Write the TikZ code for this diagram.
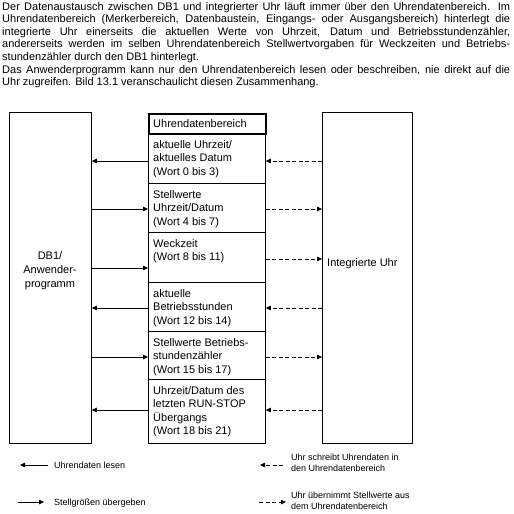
\documentclass[tikz,border=0pt]{standalone}
\usepackage{fontspec}
\setmainfont{Liberation Sans}
\usetikzlibrary{arrows.meta,calc}
\setlength\parindent{0pt}
\begin{document}
\begin{tikzpicture}[x=1pt,y=-1pt,
  box/.style={draw,line width=0.8pt,inner sep=0pt,anchor=north west},
  arr/.style={line width=0.8pt,-{Triangle[length=5pt,width=4.5pt]}},
  darr/.style={arr,dash pattern=on 4pt off 2.5pt},
  rowtxt/.style={anchor=north west,inner sep=0pt,align=left,font=\fontsize{11}{13.6}\selectfont},
  lgd/.style={anchor=west,inner sep=0pt,align=left,font=\fontsize{9}{11.5}\selectfont}]
\useasboundingbox (0,0) rectangle (514,514);
\fill[white] (0,0) rectangle (514,514);

% paragraph
\node[anchor=north west,inner sep=0pt,align=left,font=\fontsize{11}{12.6}\selectfont] (para) at (2,2) {%
\makebox[508pt][s]{Der Datenaustausch zwischen DB1 und integrierter Uhr läuft immer über den Uhrendatenbereich. Im}\\
\makebox[508pt][s]{Uhrendatenbereich (Merkerbereich, Datenbaustein, Eingangs- oder Ausgangsbereich) hinterlegt die}\\
\makebox[508pt][s]{integrierte Uhr einerseits die aktuellen Werte von Uhrzeit, Datum und Betriebsstundenzähler,}\\
\makebox[508pt][s]{andererseits werden im selben Uhrendatenbereich Stellwertvorgaben für Weckzeiten und Betriebs-}\\
stundenzähler durch den DB1 hinterlegt.\\
\makebox[508pt][s]{Das Anwenderprogramm kann nur den Uhrendatenbereich lesen oder beschreiben, nie direkt auf die}\\
Uhr zugreifen. Bild 13.1 veranschaulicht diesen Zusammenhang.};

% boxes
\node[box,minimum width=82pt,minimum height=331pt] (L) at (9,112) {};
\node[box,minimum width=90pt,minimum height=331pt] (R) at (322,112) {};
\node[box,line width=1.6pt,minimum width=117pt,minimum height=20pt] (T) at (148,113) {};
\node[box,minimum width=117pt,minimum height=50pt] (r1) at (148,133) {};
\node[box,minimum width=117pt,minimum height=49pt] (r2) at (148,183) {};
\node[box,minimum width=117pt,minimum height=50pt] (r3) at (148,232) {};
\node[box,minimum width=117pt,minimum height=49pt] (r4) at (148,282) {};
\node[box,minimum width=117pt,minimum height=48pt] (r5) at (148,331) {};
\node[box,minimum width=117pt,minimum height=64pt] (r6) at (148,379) {};

% texts
\node[rowtxt] (tT) at (153,119) {Uhrendatenbereich};
\node[rowtxt] (t1) at (153,140) {aktuelle Uhrzeit/\\aktuelles Datum\\(Wort 0 bis 3)};
\node[rowtxt] (t2) at (153,190) {Stellwerte\\Uhrzeit/Datum\\(Wort 4 bis 7)};
\node[rowtxt] (t3) at (153,239) {Weckzeit\\(Wort 8 bis 11)};
\node[rowtxt] (t4) at (153,289) {aktuelle\\Betriebsstunden\\(Wort 12 bis 14)};
\node[rowtxt] (t5) at (153,338) {Stellwerte Betriebs-\\stundenzähler\\(Wort 15 bis 17)};
\node[rowtxt] (t6) at (153,386) {Uhrzeit/Datum des\\letzten RUN-STOP\\Übergangs\\(Wort 18 bis 21)};
\node[inner sep=0pt,align=center,font=\fontsize{11}{14}\selectfont] (tL) at (50,271) {DB1/\\Anwender-\\programm};
\node[anchor=west,inner sep=0pt,font=\fontsize{11}{13.5}\selectfont] (tR) at (327,264) {Integrierte Uhr};

% connectors
\draw[arr] (r1.west |- 0,161) -- (L.east |- 0,161);
\draw[darr] (R.west |- 0,161) -- (r1.east |- 0,161);
\draw[arr] (L.east |- 0,209) -- (r2.west |- 0,209);
\draw[darr] (r2.east |- 0,209) -- (R.west |- 0,209);
\draw[arr] (L.east |- 0,268) -- (r3.west |- 0,268);
\draw[darr] (r3.east |- 0,259) -- (R.west |- 0,259);
\draw[arr] (r4.west |- 0,308) -- (L.east |- 0,308);
\draw[darr] (R.west |- 0,308) -- (r4.east |- 0,308);
\draw[arr] (L.east |- 0,357) -- (r5.west |- 0,357);
\draw[darr] (r5.east |- 0,357) -- (R.west |- 0,357);
\draw[arr] (r6.west |- 0,410) -- (L.east |- 0,410);
\draw[darr] (R.west |- 0,410) -- (r6.east |- 0,410);

% legend
\node[lgd] (g1) at (54,465) {Uhrendaten lesen};
\node[lgd] (g2) at (54,503) {Stellgrößen übergeben};
\node[lgd] (g3) at (291,463) {Uhr schreibt Uhrendaten in\\den Uhrendatenbereich};
\node[lgd] (g4) at (291,501) {Uhr übernimmt Stellwerte aus\\dem Uhrendatenbereich};
\coordinate (a1s) at (48,465); \coordinate (a1e) at (20,465);
\coordinate (a2s) at (18,502); \coordinate (a2e) at (44,502);
\coordinate (a3s) at (283,465); \coordinate (a3e) at (260,465);
\coordinate (a4s) at (259,502); \coordinate (a4e) at (286,502);
\draw[arr] (a1s) -- (a1e);
\draw[arr] (a2s) -- (a2e);
\draw[darr] (a3s) -- (a3e);
\draw[darr] (a4s) -- (a4e);
\end{tikzpicture}
\end{document}
